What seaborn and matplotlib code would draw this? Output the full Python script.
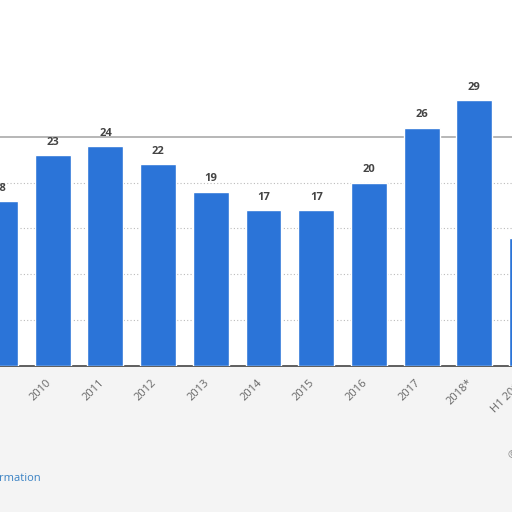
import matplotlib
matplotlib.use("Agg")
import matplotlib.pyplot as plt
import matplotlib.transforms as mtransforms
import seaborn as sns
import pandas as pd

# Datos (la barra H1 2019 queda casi fuera del recorte)
years = ["2009", "2010", "2011", "2012", "2013", "2014", "2015", "2016", "2017", "2018*", "H1 2019"]
values = [18, 23, 24, 22, 19, 17, 17, 20, 26, 29, 14]

df = pd.DataFrame({"year": years, "value": values})

sns.set_theme(style="white")
plt.rcParams["font.family"] = ["Open Sans", "DejaVu Sans"]

fig = plt.figure(figsize=(5.12, 5.12), dpi=100)
fig.patch.set_facecolor("#f4f4f4")
# El eje se sale por la derecha para que la etiqueta H1 2019 aparezca cortada
ax = fig.add_axes([0, 0.285, 1.05, 0.715])
ax.set_facecolor("white")

sns.barplot(data=df, x="year", y="value", color="#2b74d8", width=0.68,
            saturation=1, ax=ax, zorder=3)

# Etiquetas de valor
for i, v in enumerate(values[:-1]):
    ax.text(i, v + 0.8, str(v), ha="center", va="bottom", fontsize=8,
            fontweight="bold", color="#444444", zorder=4)

ax.set_xlim(0.075, 10.2)
ax.set_ylim(0, 39.9)

# Cuadrícula punteada y línea superior
for g in [5, 10, 15, 20]:
    ax.axhline(g, color="#bbbbbb", linestyle=(0, (1, 2)), linewidth=0.8, zorder=1)
ax.axhline(25, color="#aaaaaa", linewidth=1.2, zorder=1)

for s in ["top", "right", "left"]:
    ax.spines[s].set_visible(False)
ax.spines["bottom"].set_color("#444444")
ax.spines["bottom"].set_linewidth(1.2)

ax.set_yticks([])
ax.set_xlabel("")
ax.set_ylabel("")
ax.tick_params(axis="x", length=0, pad=8)
ax.set_xticks(range(len(years)))
ax.set_xticklabels(years)
shift = mtransforms.ScaledTranslation(-5 / 72, 0, fig.dpi_scale_trans)
for lab in ax.get_xticklabels():
    lab.set_rotation(45)
    lab.set_ha("right")
    lab.set_rotation_mode("anchor")
    lab.set_fontsize(8)
    lab.set_color("#666666")
    lab.set_transform(lab.get_transform() + shift)

fig.text(-0.002, 0.066, "rmation", fontsize=8, color="#3a82c4", ha="left", va="center")
fig.text(0.992, 0.11, "©", fontsize=8, color="#888888", ha="left", va="center")

fig.savefig("out.png", dpi=100, facecolor=fig.get_facecolor())
